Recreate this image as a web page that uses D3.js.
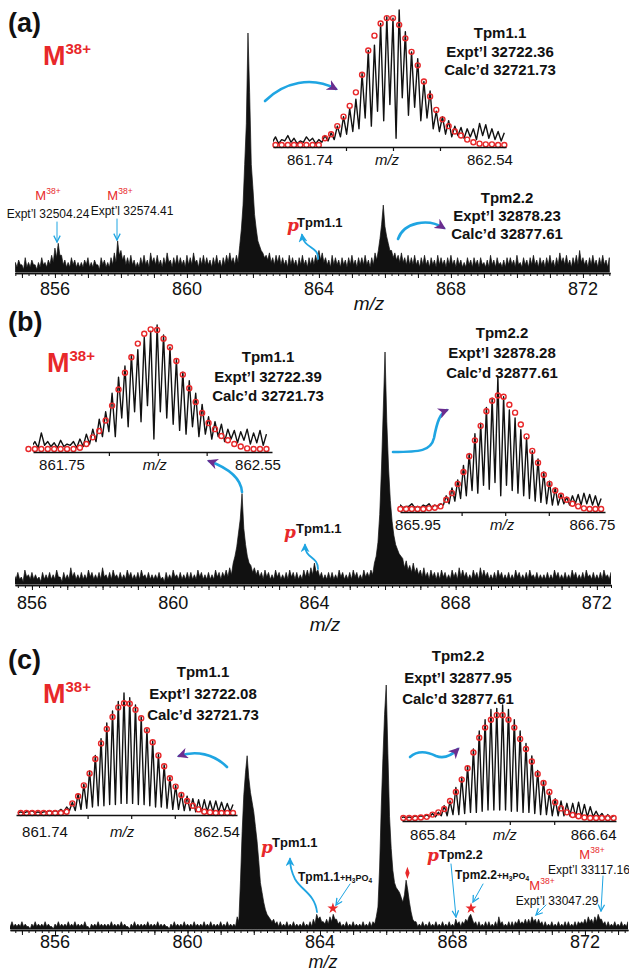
<!DOCTYPE html>
<html><head><meta charset="utf-8">
<script src="https://cdn.jsdelivr.net/npm/d3@7"></script>
<style>
body{margin:0;background:#fff;}
svg{display:block;font-family:"Liberation Sans",Arial,sans-serif;}
</style></head><body>
<svg id="chart" width="629" height="973"></svg>
<script>
// ================= DATA =================
const mainTickLabels = [856, 860, 864, 868, 872];
const mzStep = 0.05;         // sampling step of the survey spectra (m/z)
const isoSpacing = 1 / 38;   // isotope spacing for a 38+ ion (m/z)

// panel (a) survey spectrum, relative intensity, from 854.8 (one row = 1 m/z)
const specA_start = 854.8;
const specA = [
  4,2,5,3,3,1,6,2,4,2,5,3,3,1,4,2,6,3,4,2,
  5,3,7,4,10,6,12,7,7,3,5,2,4,2,6,3,5,2,4,2,
  4,2,5,3,6,2,4,2,5,3,3,1,6,3,5,2,4,2,6,3,
  8,4,13,7,9,5,7,3,6,3,7,3,5,2,4,2,6,3,7,3,
  5,2,8,4,6,3,7,3,5,2,6,3,8,4,5,2,6,3,7,3,
  6,3,5,2,7,3,6,3,8,4,5,2,6,3,7,3,6,3,5,2,
  6,3,7,3,5,2,6,3,7,4,8,4,6,3,7,4,11,18,28,45,
  62,100,75,45,35,24,18,13,11,9,8,6,7,5,8,4,6,3,7,4,
  7,3,6,3,5,2,7,3,6,3,5,2,6,3,7,3,5,2,6,3,
  6,3,7,4,9,5,8,4,6,3,5,2,7,3,6,3,5,2,6,3,
  5,2,6,3,7,3,5,2,6,3,6,3,7,3,5,2,6,3,8,5,
  9,14,20,28,19,15,12,9,9,6,8,5,7,4,8,4,6,3,7,3,
  6,3,7,3,5,2,6,3,7,3,5,2,6,3,5,2,7,3,6,3,
  5,2,6,3,7,3,5,2,6,3,5,2,4,2,6,3,5,2,6,3,
  5,2,6,3,4,2,5,2,7,3,5,2,6,3,4,2,5,2,6,3,
  6,3,5,2,7,3,4,2,6,3,5,2,6,3,7,3,5,2,6,3,
  5,2,6,3,7,3,5,2,6,3,8,4,6,3,7,3,5,2,6,3,
  7,3,9,4,6,3,5,2,6,3,7,3,5,2,6,3,7,3,5,2,
  6
];
// panel (b) survey spectrum, from 855.5
const specB_start = 855.5;
const specB = [
  4,2,5,2,3,1,6,3,4,2,5,2,4,2,3,1,5,2,4,2,
  5,2,4,2,6,3,3,1,5,2,4,2,7,3,5,2,4,2,5,2,
  4,2,6,3,5,2,4,2,5,2,7,3,4,2,5,2,6,3,4,2,
  5,2,4,2,6,3,5,2,4,2,5,2,6,3,4,2,5,2,4,2,
  4,2,5,2,3,1,5,2,4,2,6,3,4,2,5,2,4,2,5,2,
  5,2,4,2,6,3,5,2,4,2,5,2,4,2,6,3,5,2,5,3,
  6,3,7,4,9,12,16,22,28,39,24,17,12,9,8,5,7,4,6,3,
  5,2,6,3,5,2,4,2,6,3,5,2,4,2,5,2,6,3,5,2,
  5,2,4,2,6,3,6,3,7,4,9,5,6,3,5,2,4,2,5,2,
  5,2,4,2,6,3,5,2,4,2,5,2,6,3,5,2,4,2,6,3,
  5,3,6,4,9,12,18,30,50,75,100,70,50,36,27,21,17,15,13,12,
  11,7,10,6,8,5,9,5,7,4,6,3,7,3,5,2,6,3,5,2,
  5,2,6,3,5,2,4,2,6,3,5,2,7,3,6,3,5,2,4,2,
  6,3,5,2,7,3,6,3,5,2,4,2,5,2,6,3,5,2,4,2,
  5,2,4,2,6,3,5,2,4,2,5,2,6,3,4,2,5,2,4,2,
  4,2,5,2,4,2,6,3,5,2,4,2,5,2,4,2,6,3,5,2,
  4,2,5,2,6,3,4,2,5,2,4,2,5,2,6,3,4,2,5,2
];
// panel (c) survey spectrum, from 854.6
const specC_start = 854.6;
const specC = [
  2,1,3,1,2,1,2,1,3,1,2,1,1,0,2,1,3,1,2,1,
  2,1,3,1,2,1,1,0,2,1,3,1,2,1,2,1,3,1,2,1,
  3,1,2,1,2,1,3,1,1,0,2,1,2,1,3,1,2,1,2,1,
  2,1,3,1,2,1,2,1,3,1,2,1,1,0,2,1,3,1,2,1,
  2,1,2,1,3,1,2,1,2,1,3,1,2,1,2,1,1,0,2,1,
  3,1,2,1,2,1,3,1,2,1,2,1,3,1,2,1,2,1,3,1,
  2,1,3,1,2,1,2,1,3,1,2,1,3,1,2,1,2,1,5,3,
  20,40,55,64,71,62,56,52,48,42,36,28,19,15,11,8,6,5,4,3,
  4,2,3,1,3,1,2,1,3,1,2,1,3,1,2,1,2,1,3,1,
  2,1,3,1,4,2,6,4,5,3,3,2,4,2,5,3,6,4,4,2,
  3,1,2,1,3,1,2,1,3,1,2,1,2,1,3,1,2,1,3,1,
  3,2,5,9,25,50,70,88,100,72,46,33,24,19,17,16,15,13,11,14,
  20,16,11,7,4,3,3,1,2,1,3,1,2,1,3,1,2,1,3,1,
  2,1,3,1,2,1,3,1,2,1,4,2,3,1,3,2,4,3,5,6,
  4,2,3,1,3,1,2,1,3,1,3,1,2,1,3,1,5,2,3,1,
  2,1,3,1,3,1,3,2,4,2,3,2,4,2,4,2,5,3,4,2,
  4,2,3,1,3,1,2,1,3,1,2,1,3,1,2,1,3,1,3,1,
  2,1,3,1,3,2,3,2,4,2,5,3,4,2,5,3,6,4,4,2,
  3,1,3,1,2,1,3,1,2,1,3,1,2,1,3
];

// zoomed isotope clusters: experimental peak tops, valleys before each peak, calculated abundances
const insA_first = 861.640;
const insA_peaks   = [6,4,7,5,3,6,5,4,7,9, 14,21,27,34,53,70,74,90,95,94, 100,84,69,64,47,40,25,21,18,14, 13,12,12,16,15,12,10,9];
const insA_valleys = [2,1,3,2,1,2,3,1,2,3, 4,6,8,10,12,20,14,25,18,30, 5,35,22,28,18,20,12,10,8,6, 7,5,6,4,7,5,4,3];
const insA_calc    = [0,0,0,0,0,0,0,0,5,8, 14,21,29,39,52,70,81,90,94,94, 89,79,69,59,47,36,26,19,14,10, 7,4,2,1,0.5,0.5,0,0];

const insBL_first = 861.621;
const insBL_peaks   = [4,6,13,6,5,7,4,6,8,12, 16,24,30,45,58,67,76,80,90,95, 100,92,82,72,62,55,45,36,26,22, 20,16,15,14,16,13,15,12];
const insBL_valleys = [1,2,1,3,2,1,2,3,1,2, 4,6,10,14,10,25,18,30,22,35, 8,30,25,20,15,12,18,10,12,8, 10,6,8,5,7,4,5,3];
const insBL_calc    = [0,0,0,0,0,0,0,0,1,4, 9.4,14.5,23,35,48,61.5,74,85,93,96.5, 96,89,82,71,60,49,38,29,21,16, 10.5,7,4,2,0.5,0,0,0];

const insBR_first = 865.869;
const insBR_peaks   = [3,2,4,2,3,4,3, 4,10,16,22,33,42,57,65,77,84,100,85,75,69,60,54,44,38,28,21,16,11,9,10,11,12,11,10,8];
const insBR_valleys = [1,1,2,1,1,2,1, 2,3,4,6,8,10,14,12,18,15,20,10,18,14,12,10,8,6,5,4,3,3,4,3,4,3,4,3,2];
const insBR_calc    = [0,0,0,0,0,0.5,1, 2,7,12,19,28,40,52,63,74,82,86,85,79,73,64,55,44,35,26,19,14,10,7,4,2,0.5,0,0,0];

const insCL_first = 861.6333;
const insCL_peaks   = [1,1,2,1,1,2,2,3,5,9, 16,24,35,48,62,75,85,93,100,96, 90,80,70,60,49,40,30,23,16,14, 12,11,11,10,10,9,8,7];
const insCL_valleys = [0,0,1,0,0,1,1,1,1,2, 2,3,4,5,6,6,7,7,8,8, 8,7,7,6,5,5,4,3,3,2, 2,1,1,1,1,1,1,1];
const insCL_calc    = [0,0,0,0,0,0,0,0,1,8, 14,23,33,45,58,70,80,88,91.5,91, 86,79,69,59,48,39,29,22,15,10, 6,3,1,0.5,0,0,0,0];

const insCR_first = 865.7603;
const insCR_peaks   = [1,1,2,2,3,4, 5,11,15,27,36,46,61,77,87,96,97,100,96,87,77,66,55,42,33,23,17,15,13,13,14,12,10,6,4,3,2];
const insCR_valleys = [0,0,0,1,1,1,1,2,2,3, 3,4,5,5,6,7,7,7,7,6, 6,5,5,4,3,3,2,2,2,2, 1,1,1,1,1,0,0];
const insCR_calc    = [0,0,0,0.5,1,3,5,8,15,23, 34,44,58,71,80,87,91,91,87,80, 70,61,50,39,31,23,14,8.5,5,2.6, 1.5,0.5,0,0,0,0,0];

// peak markers in panel (c): m/z and marker level
const peakMarks = [
  {mz: 864.39, level: 8.5, sym: "star"},
  {mz: 868.56, level: 8.5, sym: "star"},
  {mz: 866.64, level: 23, sym: "diamond"}
];

// ================= DRAWING =================
const svg = d3.select("#chart");
const defs = svg.append("defs");
const BLUE = "#1fa5e2", RED = "#e8282a", INK = "#111", HEAD = "#6a2d8f";

function addMarker(id, color, w, open) {
  const m = defs.append("marker").attr("id", id).attr("viewBox", "0 0 10 10")
    .attr("refX", open ? 9 : 8).attr("refY", 5)
    .attr("markerWidth", w).attr("markerHeight", w)
    .attr("markerUnits", "userSpaceOnUse").attr("orient", "auto");
  if (open) m.append("path").attr("d", "M1,1 L9,5 L1,9").attr("fill", "none").attr("stroke", color).attr("stroke-width", 1.6);
  else m.append("path").attr("d", "M0,0 L10,5 L0,10 L3,5 Z").attr("fill", color);
}
addMarker("headBig", HEAD, 11, false);
addMarker("headBlue", BLUE, 9, false);
addMarker("headThin", BLUE, 8, true);

const mainPanels = [
  {id: "a", spec: specA, start: specA_start, dom: [854.79, 872.82], rng: [15, 610], axisY: 273, y100: 33,  labelY: 295, mz: [369, 310], mzSize: 19},
  {id: "b", spec: specB, start: specB_start, dom: [855.52, 872.40], rng: [15, 611], axisY: 585, y100: 352, labelY: 609, mz: [325, 631], mzSize: 19},
  {id: "c", spec: specC, start: specC_start, dom: [854.64, 873.30], rng: [10, 628], axisY: 930, y100: 685, labelY: 947.5, mz: [323, 967.5], mzSize: 18}
];
const scalesMain = {};

mainPanels.forEach(p => {
  const x = d3.scaleLinear().domain(p.dom).range(p.rng);
  const y = d3.scaleLinear().domain([0, 100]).range([p.axisY - 1, p.y100]);
  scalesMain[p.id] = {x, y};
  const clipId = "clipm" + p.id;
  defs.append("clipPath").attr("id", clipId).append("rect")
    .attr("x", p.rng[0]).attr("y", 0).attr("width", p.rng[1] - p.rng[0]).attr("height", 973);
  const g = svg.append("g");
  const area = d3.area()
    .x((d, i) => x(p.start + i * mzStep))
    .y0(y(0)).y1(d => y(d));
  g.append("path").datum(p.spec).attr("clip-path", `url(#${clipId})`)
    .attr("d", area).attr("fill", INK).attr("stroke", INK)
    .attr("stroke-width", 0.7).attr("stroke-linejoin", "miter");
  const minor = d3.range(Math.ceil(p.dom[0] * 5), Math.floor(p.dom[1] * 5) + 1).map(v => v / 5);
  const ax1 = g.append("g").attr("transform", `translate(0,${p.axisY})`)
    .call(d3.axisBottom(x).tickValues(minor).tickSize(3).tickSizeOuter(0).tickFormat(""));
  const ints = d3.range(Math.ceil(p.dom[0]), Math.floor(p.dom[1]) + 1);
  const ax2 = g.append("g").attr("transform", `translate(0,${p.axisY})`)
    .call(d3.axisBottom(x).tickValues(ints).tickSize(5).tickSizeOuter(0).tickFormat(""));
  [ax1, ax2].forEach(a => {
    a.select(".domain").attr("stroke", INK).attr("stroke-width", 1.3);
    a.selectAll(".tick line").attr("stroke", INK).attr("stroke-width", 1);
  });
  g.selectAll("text.tl").data(mainTickLabels).join("text").attr("class", "tl")
    .attr("x", d => x(d)).attr("y", p.labelY).attr("text-anchor", "middle")
    .attr("font-size", 18).attr("fill", INK).text(d => d);
  g.append("text").attr("x", p.mz[0]).attr("y", p.mz[1]).attr("text-anchor", "middle")
    .attr("font-size", p.mzSize).attr("font-style", "italic").attr("fill", INK).text("m/z");
});

const insets = [
  {peaks: insA_peaks, valleys: insA_valleys, calc: insA_calc, first: insA_first,
   dom: [861.6294, 862.6209], rng: [273, 506], axisY: 147, y0: 145, y100: 10,
   ticks: [861.94, 862.14, 862.34], labels: [[861.74, 11], [862.54, 3]], mzAt: [862.14, -6], labelY: 165},
  {peaks: insBL_peaks, valleys: insBL_valleys, calc: insBL_calc, first: insBL_first,
   dom: [861.6395, 862.6174], rng: [33, 272], axisY: 452, y0: 449, y100: 325,
   ticks: [861.95, 862.15, 862.35], labels: [[861.75, 2], [862.55, 2.5]], mzAt: [862.15, -3], labelY: 470},
  {peaks: insBR_peaks, valleys: insBR_valleys, calc: insBR_calc, first: insBR_first,
   dom: [865.8674, 866.8078], rng: [400, 605], axisY: 512, y0: 509, y100: 377,
   ticks: [866.15, 866.35, 866.55], labels: [[865.95, 0], [866.75, 0]], mzAt: [866.35, -3], labelY: 530},
  {peaks: insCL_peaks, valleys: insCL_valleys, calc: insCL_calc, first: insCL_first,
   dom: [861.6116, 862.6253], rng: [16, 237], axisY: 815, y0: 813, y100: 693,
   ticks: [861.94, 862.14, 862.34], labels: [[861.74, 1], [862.54, -1.4]], mzAt: [862.14, -9], labelY: 837},
  {peaks: insCR_peaks, valleys: insCR_valleys, calc: insCR_calc, first: insCR_first,
   dom: [865.7544, 866.7184], rng: [402, 616], axisY: 821, y0: 818, y100: 705,
   ticks: [866.04, 866.24, 866.44], labels: [[865.84, 12], [866.64, -5]], mzAt: [866.24, -5], labelY: 840}
];
const fmt2 = d3.format(".2f");
insets.forEach((s, k) => {
  const x = d3.scaleLinear().domain(s.dom).range(s.rng);
  const y = d3.scaleLinear().domain([0, 100]).range([s.y0, s.y100]);
  const clipId = "clipi" + k;
  defs.append("clipPath").attr("id", clipId).append("rect")
    .attr("x", s.rng[0]).attr("y", 0).attr("width", s.rng[1] - s.rng[0]).attr("height", 973);
  const g = svg.append("g");
  const pts = [];
  s.peaks.forEach((v, i) => {
    pts.push([s.first + (i - 0.5) * isoSpacing, s.valleys[i]]);
    pts.push([s.first + i * isoSpacing, v]);
  });
  g.append("path").datum(pts).attr("clip-path", `url(#${clipId})`)
    .attr("d", d3.line().x(d => x(d[0])).y(d => y(d[1])))
    .attr("fill", "none").attr("stroke", INK).attr("stroke-width", 1.4).attr("stroke-linejoin", "round");
  g.selectAll("circle").data(s.calc).join("circle")
    .attr("cx", (d, i) => x(s.first + i * isoSpacing)).attr("cy", d => y(d))
    .attr("r", 2.5).attr("fill", "none").attr("stroke", RED).attr("stroke-width", 1.4);
  const ax = g.append("g").attr("transform", `translate(0,${s.axisY})`)
    .call(d3.axisBottom(x).tickValues(s.ticks).tickSize(4).tickSizeOuter(0).tickFormat(""));
  ax.select(".domain").attr("stroke", INK).attr("stroke-width", 1.3);
  ax.selectAll(".tick line").attr("stroke", INK).attr("stroke-width", 1.2);
  g.selectAll("text.il").data(s.labels).join("text").attr("class", "il")
    .attr("x", d => x(d[0]) + d[1]).attr("y", s.labelY).attr("text-anchor", "middle")
    .attr("font-size", 15).attr("fill", INK).text(d => fmt2(d[0]));
  g.append("text").attr("x", x(s.mzAt[0]) + s.mzAt[1]).attr("y", s.labelY).attr("text-anchor", "middle")
    .attr("font-size", 15).attr("font-style", "italic").attr("fill", INK).text("m/z");
});

// peak markers (panel c)
peakMarks.forEach(m => {
  const {x, y} = scalesMain.c;
  const sym = m.sym === "star" ? d3.symbol(d3.symbolStar, 38) : d3.symbol(d3.symbolDiamond, 26);
  svg.append("path").attr("d", sym())
    .attr("transform", `translate(${x(m.mz)},${y(m.level)})` + (m.sym === "diamond" ? " scale(0.8,1.3)" : ""))
    .attr("fill", RED);
});

// ---------- text ----------
function txt(x, y, str, o = {}) {
  return svg.append("text").attr("x", x).attr("y", y)
    .attr("text-anchor", o.anchor || "middle").attr("font-size", o.size || 15)
    .attr("font-weight", o.weight || "bold").attr("fill", o.fill || INK).text(str);
}
function block(cx, ys, lines, size) {
  lines.forEach((l, i) => txt(cx, ys[i], l, {size}));
}
function bigM(x, y) {
  const t = svg.append("text").attr("x", x).attr("y", y).attr("font-weight", "bold").attr("fill", RED);
  t.append("tspan").attr("font-size", 27).text("M");
  t.append("tspan").attr("font-size", 15).attr("dy", -11).text("38+");
}
function smallM(cx, y) {
  const t = svg.append("text").attr("x", cx).attr("y", y).attr("text-anchor", "middle").attr("fill", RED);
  t.append("tspan").attr("font-size", 13).text("M");
  t.append("tspan").attr("font-size", 8.5).attr("dy", -6).text("38+");
}
function pLabel(px, py, tx, ty, name, size) {
  svg.append("text").attr("x", px).attr("y", py).attr("font-family", "'DejaVu Serif','Liberation Serif',serif")
    .attr("font-style", "italic").attr("font-weight", "bold").attr("font-size", 17).attr("fill", RED).text("p");
  txt(tx, ty, name, {anchor: "start", size});
}
function phosLabel(x, y, name) {
  const t = svg.append("text").attr("x", x).attr("y", y).attr("font-weight", "bold").attr("fill", INK);
  t.append("tspan").attr("font-size", 12).text(name);
  t.append("tspan").attr("font-size", 9).text("+H");
  t.append("tspan").attr("font-size", 6.5).attr("dy", 1.5).text("3");
  t.append("tspan").attr("font-size", 9).attr("dy", -1.5).text("PO");
  t.append("tspan").attr("font-size", 6.5).attr("dy", 1.5).text("4");
}

// panel letters
txt(8, 32, "(a)", {anchor: "start", size: 27});
txt(8, 331, "(b)", {anchor: "start", size: 27});
txt(8, 669, "(c)", {anchor: "start", size: 27});
bigM(43, 65); bigM(47, 372); bigM(43, 703);

// panel a
block(500, [38, 57, 75], ["Tpm1.1", "Expt\u2019l 32722.36", "Calc\u2019d 32721.73"], 15);
block(507, [203, 221, 239], ["Tpm2.2", "Expt\u2019l 32878.23", "Calc\u2019d 32877.61"], 15);
smallM(48, 200); txt(48, 218, "Expt\u2019l 32504.24", {size: 12, weight: "normal"});
smallM(120, 200); txt(132, 215, "Expt\u2019l 32574.41", {size: 12, weight: "normal"});
pLabel(287, 231, 297, 227, "Tpm1.1", 13);

// panel b
block(268, [362, 382, 401], ["Tpm1.1", "Expt\u2019l 32722.39", "Calc\u2019d 32721.73"], 15);
block(502, [338, 358, 378], ["Tpm2.2", "Expt\u2019l 32878.28", "Calc\u2019d 32877.61"], 15);
pLabel(284, 538, 296, 533, "Tpm1.1", 13);

// panel c
block(203, [677, 699, 720], ["Tpm1.1", "Expt\u2019l 32722.08", "Calc\u2019d 32721.73"], 15);
block(458, [661, 683, 704], ["Tpm2.2", "Expt\u2019l 32877.95", "Calc\u2019d 32877.61"], 15);
pLabel(261, 853, 272, 847, "Tpm1.1", 13);
pLabel(427, 861, 439, 859, "Tpm2.2", 12.5);
phosLabel(298, 881, "Tpm1.1");
phosLabel(455, 879, "Tpm2.2");
smallM(542, 890); txt(557, 905, "Expt\u2019l 33047.29", {size: 12, weight: "normal"});
smallM(592, 859); txt(589, 874, "Expt\u2019l 33117.16", {size: 12, weight: "normal"});

// ---------- arrows ----------
function arrow(d, w, head) {
  svg.append("path").attr("d", d).attr("fill", "none").attr("stroke", BLUE)
    .attr("stroke-width", w).attr("stroke-linecap", "round").attr("marker-end", `url(#${head})`);
}
arrow("M265,101 C284,82 312,76 336,89", 2.6, "headBig");
arrow("M398,239 C404,222 428,218 444,228", 2.6, "headBig");
arrow("M242,492 C241,478 228,468 209,461", 2.6, "headBig");
arrow("M393,452 C420,452 431,451 434,438 C437,422 440,413 447,410", 2.6, "headBig");
arrow("M227,767 C214,754 196,750 179,756", 2.6, "headBig");
arrow("M410,757 C418,750 428,752 436,756 C444,759 451,756 458,749", 2.6, "headBig");
arrow("M318,259 C319,246 304,249 302,235", 1.8, "headBlue");
arrow("M318,569 C318,556 305,559 305,545", 1.8, "headBlue");
arrow("M317,912 C315,894 301,890 295,879 C291,871 290,866 290,859", 1.8, "headBlue");
arrow("M57,222 L57,242", 1, "headThin");
arrow("M117,219 L117,240", 1, "headThin");
arrow("M350,884 L336,905", 1, "headThin");
arrow("M451,864 L456,917", 1, "headThin");
arrow("M483,884 L473,902", 1, "headThin");
arrow("M546,905 L536,915", 1, "headThin");
arrow("M603,876 L601,911", 1, "headThin");
</script>
</body></html>
